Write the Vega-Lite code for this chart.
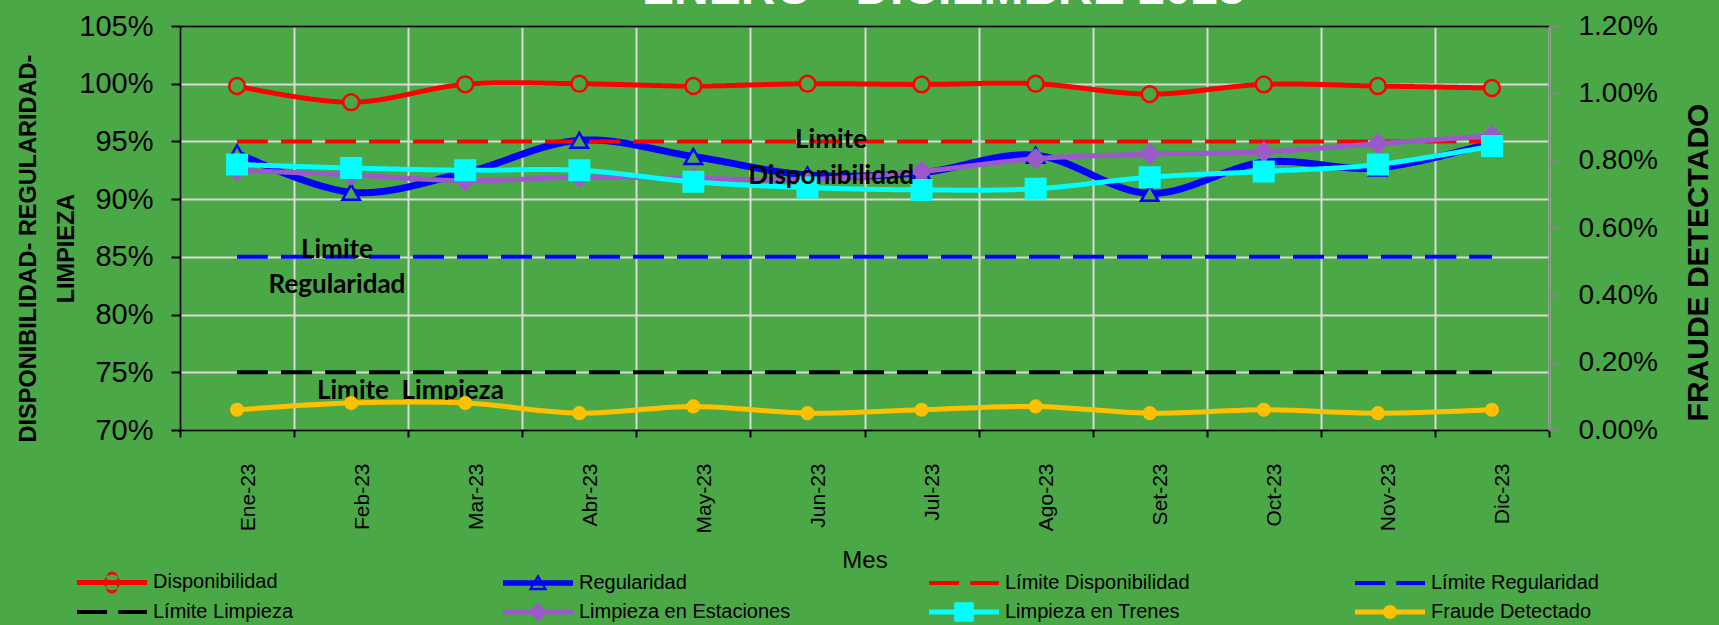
{
  "$schema": "https://vega.github.io/schema/vega-lite/v6.json",
  "width": 1369,
  "height": 404,
  "autosize": {"type": "none"},
  "padding": {"left": 180, "top": 26, "right": 170, "bottom": 195},
  "background": "#4aa847",
  "config": {
    "view": {"stroke": null},
    "axis": {"labelColor": "#000000", "titleColor": "#000000"},
    "legend": {"labelColor": "#000000"}
  },
  "datasets": {
    "left": [
      {"m": "Ene-23", "s": "Disponibilidad", "v": 0.998},
      {"m": "Feb-23", "s": "Disponibilidad", "v": 0.984},
      {"m": "Mar-23", "s": "Disponibilidad", "v": 0.9995},
      {"m": "Abr-23", "s": "Disponibilidad", "v": 1.0},
      {"m": "May-23", "s": "Disponibilidad", "v": 0.998},
      {"m": "Jun-23", "s": "Disponibilidad", "v": 1.0},
      {"m": "Jul-23", "s": "Disponibilidad", "v": 0.9994},
      {"m": "Ago-23", "s": "Disponibilidad", "v": 1.0},
      {"m": "Set-23", "s": "Disponibilidad", "v": 0.991},
      {"m": "Oct-23", "s": "Disponibilidad", "v": 0.9994},
      {"m": "Nov-23", "s": "Disponibilidad", "v": 0.998},
      {"m": "Dic-23", "s": "Disponibilidad", "v": 0.9963},
      {"m": "Ene-23", "s": "Regularidad", "v": 0.940},
      {"m": "Feb-23", "s": "Regularidad", "v": 0.906},
      {"m": "Mar-23", "s": "Regularidad", "v": 0.923},
      {"m": "Abr-23", "s": "Regularidad", "v": 0.951},
      {"m": "May-23", "s": "Regularidad", "v": 0.937},
      {"m": "Jun-23", "s": "Regularidad", "v": 0.921},
      {"m": "Jul-23", "s": "Regularidad", "v": 0.923},
      {"m": "Ago-23", "s": "Regularidad", "v": 0.938},
      {"m": "Set-23", "s": "Regularidad", "v": 0.905},
      {"m": "Oct-23", "s": "Regularidad", "v": 0.932},
      {"m": "Nov-23", "s": "Regularidad", "v": 0.927},
      {"m": "Dic-23", "s": "Regularidad", "v": 0.949},
      {"m": "Ene-23", "s": "Límite Disponibilidad", "v": 0.95},
      {"m": "Feb-23", "s": "Límite Disponibilidad", "v": 0.95},
      {"m": "Mar-23", "s": "Límite Disponibilidad", "v": 0.95},
      {"m": "Abr-23", "s": "Límite Disponibilidad", "v": 0.95},
      {"m": "May-23", "s": "Límite Disponibilidad", "v": 0.95},
      {"m": "Jun-23", "s": "Límite Disponibilidad", "v": 0.95},
      {"m": "Jul-23", "s": "Límite Disponibilidad", "v": 0.95},
      {"m": "Ago-23", "s": "Límite Disponibilidad", "v": 0.95},
      {"m": "Set-23", "s": "Límite Disponibilidad", "v": 0.95},
      {"m": "Oct-23", "s": "Límite Disponibilidad", "v": 0.95},
      {"m": "Nov-23", "s": "Límite Disponibilidad", "v": 0.95},
      {"m": "Dic-23", "s": "Límite Disponibilidad", "v": 0.95},
      {"m": "Ene-23", "s": "Límite Regularidad", "v": 0.85},
      {"m": "Feb-23", "s": "Límite Regularidad", "v": 0.85},
      {"m": "Mar-23", "s": "Límite Regularidad", "v": 0.85},
      {"m": "Abr-23", "s": "Límite Regularidad", "v": 0.85},
      {"m": "May-23", "s": "Límite Regularidad", "v": 0.85},
      {"m": "Jun-23", "s": "Límite Regularidad", "v": 0.85},
      {"m": "Jul-23", "s": "Límite Regularidad", "v": 0.85},
      {"m": "Ago-23", "s": "Límite Regularidad", "v": 0.85},
      {"m": "Set-23", "s": "Límite Regularidad", "v": 0.85},
      {"m": "Oct-23", "s": "Límite Regularidad", "v": 0.85},
      {"m": "Nov-23", "s": "Límite Regularidad", "v": 0.85},
      {"m": "Dic-23", "s": "Límite Regularidad", "v": 0.85},
      {"m": "Ene-23", "s": "Límite Limpieza", "v": 0.75},
      {"m": "Feb-23", "s": "Límite Limpieza", "v": 0.75},
      {"m": "Mar-23", "s": "Límite Limpieza", "v": 0.75},
      {"m": "Abr-23", "s": "Límite Limpieza", "v": 0.75},
      {"m": "May-23", "s": "Límite Limpieza", "v": 0.75},
      {"m": "Jun-23", "s": "Límite Limpieza", "v": 0.75},
      {"m": "Jul-23", "s": "Límite Limpieza", "v": 0.75},
      {"m": "Ago-23", "s": "Límite Limpieza", "v": 0.75},
      {"m": "Set-23", "s": "Límite Limpieza", "v": 0.75},
      {"m": "Oct-23", "s": "Límite Limpieza", "v": 0.75},
      {"m": "Nov-23", "s": "Límite Limpieza", "v": 0.75},
      {"m": "Dic-23", "s": "Límite Limpieza", "v": 0.75},
      {"m": "Ene-23", "s": "Limpieza en Estaciones", "v": 0.925},
      {"m": "Feb-23", "s": "Limpieza en Estaciones", "v": 0.921},
      {"m": "Mar-23", "s": "Limpieza en Estaciones", "v": 0.916},
      {"m": "Abr-23", "s": "Limpieza en Estaciones", "v": 0.919},
      {"m": "May-23", "s": "Limpieza en Estaciones", "v": 0.918},
      {"m": "Jun-23", "s": "Limpieza en Estaciones", "v": 0.917},
      {"m": "Jul-23", "s": "Limpieza en Estaciones", "v": 0.924},
      {"m": "Ago-23", "s": "Limpieza en Estaciones", "v": 0.935},
      {"m": "Set-23", "s": "Limpieza en Estaciones", "v": 0.939},
      {"m": "Oct-23", "s": "Limpieza en Estaciones", "v": 0.941},
      {"m": "Nov-23", "s": "Limpieza en Estaciones", "v": 0.948},
      {"m": "Dic-23", "s": "Limpieza en Estaciones", "v": 0.955},
      {"m": "Ene-23", "s": "Limpieza en Trenes", "v": 0.930},
      {"m": "Feb-23", "s": "Limpieza en Trenes", "v": 0.927},
      {"m": "Mar-23", "s": "Limpieza en Trenes", "v": 0.925},
      {"m": "Abr-23", "s": "Limpieza en Trenes", "v": 0.925},
      {"m": "May-23", "s": "Limpieza en Trenes", "v": 0.915},
      {"m": "Jun-23", "s": "Limpieza en Trenes", "v": 0.910},
      {"m": "Jul-23", "s": "Limpieza en Trenes", "v": 0.908},
      {"m": "Ago-23", "s": "Limpieza en Trenes", "v": 0.909},
      {"m": "Set-23", "s": "Limpieza en Trenes", "v": 0.919},
      {"m": "Oct-23", "s": "Limpieza en Trenes", "v": 0.924},
      {"m": "Nov-23", "s": "Limpieza en Trenes", "v": 0.930},
      {"m": "Dic-23", "s": "Limpieza en Trenes", "v": 0.946}
    ],
    "fraude": [
      {"m": "Ene-23", "v": 0.0006},
      {"m": "Feb-23", "v": 0.0008},
      {"m": "Mar-23", "v": 0.0008},
      {"m": "Abr-23", "v": 0.0005},
      {"m": "May-23", "v": 0.0007},
      {"m": "Jun-23", "v": 0.0005},
      {"m": "Jul-23", "v": 0.0006},
      {"m": "Ago-23", "v": 0.0007},
      {"m": "Set-23", "v": 0.0005},
      {"m": "Oct-23", "v": 0.0006},
      {"m": "Nov-23", "v": 0.0005},
      {"m": "Dic-23", "v": 0.0006}
    ],
    "noteDisp": [
      {"m": "Jun-23", "v": 0.9512, "t": "Limite"},
      {"m": "Jun-23", "v": 0.9200, "t": "Disponibilidad"}
    ],
    "noteReg": [
      {"m": "Feb-23", "v": 0.8559, "t": "Limite"},
      {"m": "Feb-23", "v": 0.8256, "t": "Regularidad"}
    ],
    "noteLimp": [
      {"m": "Mar-23", "v": 0.7338, "t": "Limite\u00a0 Limpieza"}
    ]
  },
  "layer": [
    {
      "layer": [
        {
          "data": {"name": "left"},
          "mark": {"type": "line", "interpolate": "cardinal", "strokeCap": "butt"},
          "encoding": {
            "x": {
              "field": "m", "type": "nominal", "bandPosition": 0.5,
              "sort": ["Ene-23","Feb-23","Mar-23","Abr-23","May-23","Jun-23","Jul-23","Ago-23","Set-23","Oct-23","Nov-23","Dic-23"],
              "scale": {"type": "band", "paddingInner": 0, "paddingOuter": 0,
                "domain": ["Ene-23","Feb-23","Mar-23","Abr-23","May-23","Jun-23","Jul-23","Ago-23","Set-23","Oct-23","Nov-23","Dic-23"]},
              "axis": {
                "orient": "bottom",
                "title": "Mes",
                "titleFont": "Liberation Sans",
                "titleFontSize": 24,
                "titleFontWeight": "normal",
                "titleY": 137,
                "titleBaseline": "alphabetic",
                "labelAngle": -90,
                "labelAlign": "right",
                "labelBaseline": "top",
                "labelFont": "Liberation Sans",
                "labelFontSize": 21,
                "labelPadding": 26,
                "tickBand": "extent",
                "ticks": true,
                "tickSize": 7,
                "tickColor": "#000000",
                "tickWidth": 2,
                "domainColor": "#000000",
                "domainWidth": 2,
                "grid": true,
                "gridColor": "#d9d9d9",
                "gridWidth": 2
              }
            },
            "y": {
              "field": "v", "type": "quantitative",
              "scale": {"domain": [0.70, 1.05], "zero": false, "nice": false},
              "axis": {
                "values": [0.70, 0.75, 0.80, 0.85, 0.90, 0.95, 1.00, 1.05],
                "format": ".0%",
                "labelFont": "Liberation Sans",
                "labelFontSize": 29,
                "labelPadding": 18,
                "tickSize": 9,
                "tickColor": "#000000",
                "tickWidth": 2,
                "domainColor": "#000000",
                "domainWidth": 2,
                "grid": true,
                "gridColor": "#d9d9d9",
                "gridWidth": 2,
                "title": ["DISPONIBILIDAD- REGULARIDAD-", "LIMPIEZA\u00a0\u00a0\u00a0\u00a0\u00a0\u00a0\u00a0\u00a0"],
                "titleFont": "Liberation Sans",
                "titleFontSize": 23.5,
                "titleFontWeight": "bold",
                "titleLineHeight": 38,
                "titleAngle": -90,
                "titleAlign": "center",
                "titleBaseline": "alphabetic",
                "titleX": -145,
                "titleY": 222
              }
            },
            "color": {
              "field": "s", "type": "nominal",
              "scale": {
                "domain": ["Disponibilidad","Regularidad","Límite Disponibilidad","Límite Regularidad","Límite Limpieza","Limpieza en Estaciones","Limpieza en Trenes","Fraude Detectado"],
                "range": ["#ff0000","#0000ff","#ff0000","#0000ff","#000000","#9b59c9","#00ffff","#ffc000"]
              },
              "legend": {
                "title": null,
                "orient": "none",
                "legendX": -113,
                "legendY": 546,
                "columns": 4,
                "direction": "horizontal",
                "gridAlign": "all",
                "columnPadding": 128,
                "rowPadding": 8,
                "symbolSize": 196,
                "symbolOffset": 0,
                "labelOffset": 66,
                "labelFont": "Liberation Sans",
                "labelFontSize": 20,
                "labelLimit": 500,
                "encode": {
                  "symbols": {
                    "update": {
                      "shape": {"signal": "datum.value === 'Disponibilidad' ? 'M0,-0.36H10V0.36H0Z M3.86,0A1.14,1.14 0 1,1 6.14,0A1.14,1.14 0 1,1 3.86,0Z M4.8,0A0.8,0.8 0 1,0 5.2,0.01A0.8,0.8 0 1,0 4.8,0Z' : datum.value === 'Regularidad' ? 'M0,-0.4H10V0.4H0Z M5,-1.3L6.35,1.05L3.65,1.05Z M5,-0.6L4.2,0.68L5.8,0.68Z' : datum.value === 'Limpieza en Estaciones' ? 'M0,-0.36H10V0.36H0Z M5,-1.35L6.35,0L5,1.35L3.65,0Z' : datum.value === 'Limpieza en Trenes' ? 'M0,-0.36H10V0.36H0Z M3.6,-1.4H6.4V1.4H3.6Z' : datum.value === 'Fraude Detectado' ? 'M0,-0.36H10V0.36H0Z M4,0A1,1 0 1,1 6,0A1,1 0 1,1 4,0Z' : 'M0,-0.3H4.3V0.3H0Z M5.9,-0.3H10V0.3H5.9Z'"},
                      "fill": {"scale": "color", "field": "value"},
                      "stroke": {"value": "transparent"},
                      "strokeWidth": {"value": 0},
                      "strokeDash": {"value": []},
                      "opacity": {"value": 1}
                    }
                  }
                }
              }
            },
            "strokeDash": {
              "field": "s", "type": "nominal", "legend": null,
              "scale": {
                "domain": ["Disponibilidad","Regularidad","Límite Disponibilidad","Límite Regularidad","Límite Limpieza","Limpieza en Estaciones","Limpieza en Trenes"],
                "range": [[1,0],[1,0],[31,13],[31,13],[31,13],[1,0],[1,0]]
              }
            },
            "strokeWidth": {
              "field": "s", "type": "nominal", "legend": null,
              "scale": {
                "type": "ordinal",
                "domain": ["Disponibilidad","Regularidad","Límite Disponibilidad","Límite Regularidad","Límite Limpieza","Limpieza en Estaciones","Limpieza en Trenes"],
                "range": [5, 7, 4, 4, 4, 5, 5]
              }
            }
          }
        },
        {
          "data": {"name": "left"},
          "transform": [{"filter": "indexof(['Disponibilidad','Regularidad','Limpieza en Estaciones','Limpieza en Trenes'], datum.s) >= 0"}],
          "mark": {"type": "point", "filled": false, "strokeWidth": 2.5, "opacity": 1},
          "encoding": {
            "x": {
              "field": "m", "type": "nominal", "bandPosition": 0.5,
              "sort": ["Ene-23","Feb-23","Mar-23","Abr-23","May-23","Jun-23","Jul-23","Ago-23","Set-23","Oct-23","Nov-23","Dic-23"],
              "axis": {
                "orient": "top",
                "labels": false,
                "ticks": false,
                "grid": false,
                "title": "ENERO - DICIEMBRE 2023",
                "titleColor": "#ffffff",
                "titleFont": "Liberation Sans",
                "titleFontSize": 48,
                "titleFontWeight": "bold",
                "titleAngle": 0,
                "titleAlign": "center",
                "titleBaseline": "alphabetic",
                "titleX": 763,
                "titleY": -23,
                "domainColor": "#000000",
                "domainWidth": 2
              }
            },
            "y": {"field": "v", "type": "quantitative"},
            "shape": {
              "field": "s", "type": "nominal", "legend": null,
              "scale": {
                "domain": ["Disponibilidad","Regularidad","Limpieza en Estaciones","Limpieza en Trenes"],
                "range": ["circle","triangle-up","diamond","square"]
              }
            },
            "fill": {
              "field": "s", "type": "nominal", "legend": null,
              "scale": {
                "domain": ["Disponibilidad","Regularidad","Limpieza en Estaciones","Limpieza en Trenes"],
                "range": ["#4aa847","#4aa847","#9b59c9","#00ffff"]
              }
            },
            "stroke": {
              "field": "s", "type": "nominal", "legend": null,
              "scale": {
                "domain": ["Disponibilidad","Regularidad","Limpieza en Estaciones","Limpieza en Trenes"],
                "range": ["#ff0000","#0000ff","#9b59c9","#00ffff"]
              }
            },
            "size": {
              "field": "s", "type": "nominal", "legend": null,
              "scale": {
                "type": "ordinal",
                "domain": ["Disponibilidad","Regularidad","Limpieza en Estaciones","Limpieza en Trenes"],
                "range": [250, 300, 330, 380]
              }
            }
          }
        },
        {
          "data": {"name": "noteDisp"},
          "mark": {"type": "text", "font": "Lato", "fontWeight": "bold", "fontSize": 26, "color": "#000000", "align": "center", "baseline": "middle"},
          "encoding": {
            "x": {"field": "m", "type": "nominal", "bandPosition": 0.707, "axis": null},
            "y": {"field": "v", "type": "quantitative"},
            "text": {"field": "t"}
          }
        },
        {
          "data": {"name": "noteReg"},
          "mark": {"type": "text", "font": "Lato", "fontWeight": "bold", "fontSize": 26, "color": "#000000", "align": "center", "baseline": "middle"},
          "encoding": {
            "x": {"field": "m", "type": "nominal", "bandPosition": 0.376, "axis": null},
            "y": {"field": "v", "type": "quantitative"},
            "text": {"field": "t"}
          }
        },
        {
          "data": {"name": "noteLimp"},
          "mark": {"type": "text", "font": "Lato", "fontWeight": "bold", "fontSize": 26, "color": "#000000", "align": "center", "baseline": "middle"},
          "encoding": {
            "x": {"field": "m", "type": "nominal", "bandPosition": 0.02, "axis": null},
            "y": {"field": "v", "type": "quantitative"},
            "text": {"field": "t"}
          }
        }
      ]
    },
    {
      "data": {"name": "fraude"},
      "layer": [
        {
          "mark": {"type": "line", "interpolate": "cardinal", "color": "#ffc000", "strokeWidth": 5},
          "encoding": {
            "x": {"field": "m", "type": "nominal", "bandPosition": 0.5, "axis": null,
              "sort": ["Ene-23","Feb-23","Mar-23","Abr-23","May-23","Jun-23","Jul-23","Ago-23","Set-23","Oct-23","Nov-23","Dic-23"]},
            "y": {
              "field": "v", "type": "quantitative",
              "scale": {"domain": [0, 0.012], "nice": false, "zero": true},
              "axis": {
                "orient": "right",
                "values": [0, 0.002, 0.004, 0.006, 0.008, 0.010, 0.012],
                "format": ".2%",
                "labelFont": "Liberation Sans",
                "labelFontSize": 28,
                "labelPadding": 19,
                "tickSize": 10,
                "tickColor": "#868686",
                "tickWidth": 2,
                "domainColor": "#868686",
                "domainWidth": 2,
                "grid": false,
                "title": "FRAUDE DETECTADO",
                "titleFont": "Liberation Sans",
                "titleFontSize": 30,
                "titleFontWeight": "bold",
                "titleAngle": -90,
                "titleAlign": "center",
                "titleBaseline": "alphabetic",
                "titleX": 158,
                "titleY": 236
              }
            }
          }
        },
        {
          "mark": {"type": "point", "filled": true, "color": "#ffc000", "size": 200, "shape": "circle", "opacity": 1},
          "encoding": {
            "x": {"field": "m", "type": "nominal", "bandPosition": 0.5, "axis": null,
              "sort": ["Ene-23","Feb-23","Mar-23","Abr-23","May-23","Jun-23","Jul-23","Ago-23","Set-23","Oct-23","Nov-23","Dic-23"]},
            "y": {"field": "v", "type": "quantitative"}
          }
        }
      ]
    }
  ],
  "resolve": {"scale": {"y": "independent"}}
}
